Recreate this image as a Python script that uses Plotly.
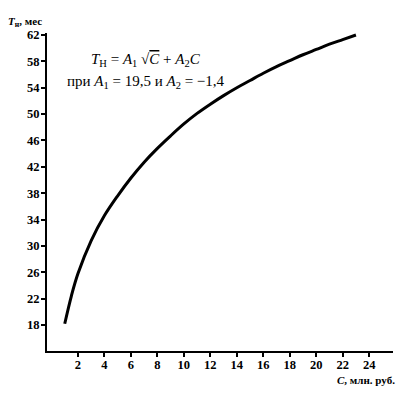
import plotly.graph_objects as go

# Values
cost = [1, 1.5, 2, 3, 4, 5, 6, 7, 8, 9, 10, 11, 12, 13, 14, 15, 16, 17, 18, 19, 20, 21, 22, 23]
term = [18.2, 22.4, 25.8, 30.8, 34.6, 37.6, 40.3, 42.7, 44.8, 46.7, 48.5, 50.1, 51.5, 52.8,
        54.0, 55.1, 56.2, 57.2, 58.1, 59.0, 59.8, 60.6, 61.3, 62.0]
x_ticks = [2, 4, 6, 8, 10, 12, 14, 16, 18, 20, 22, 24]
y_ticks = [18, 22, 26, 30, 34, 38, 42, 46, 50, 54, 58, 62]

FONT = "Liberation Serif"

fig = go.Figure()
fig.add_trace(go.Scatter(x=cost, y=term, mode="lines", line=dict(color="black", width=3, shape="spline"),
                         showlegend=False, hoverinfo="skip"))

axis_common = dict(showgrid=False, zeroline=False, showline=True, linecolor="#000000", linewidth=2,
                   ticks="outside", ticklen=4, tickwidth=1.5, tickcolor="#000000", mirror=False,
                   tickfont=dict(family=FONT, size=12.5, color="black"))

fig.update_xaxes(range=[-0.34, 25.8], tickvals=x_ticks, ticktext=[f"<b>{v}</b>" for v in x_ticks],
                 ticklabelstandoff=-3, **axis_common)
fig.update_yaxes(range=[14.06, 62.3], tickvals=y_ticks, ticktext=[f"<b>{v}</b>" for v in y_ticks],
                 ticklabelstandoff=-1, **axis_common)

fig.update_layout(
    width=399, height=398,
    margin=dict(l=47, r=6, t=33, b=47),
    paper_bgcolor="white", plot_bgcolor="white",
    font=dict(family=FONT, color="black"),
    annotations=[
        dict(xref="paper", yref="paper", x=-0.118, y=1.035, xanchor="left", yanchor="middle", showarrow=False,
             text="<b><i>T</i><sub>н</sub>, мес</b>", font=dict(family=FONT, size=11)),
        dict(xref="paper", yref="paper", x=1.012, y=-0.091, xanchor="right", yanchor="middle", showarrow=False,
             text="<b><i>C</i>, млн. руб.</b>", font=dict(family=FONT, size=11)),
        dict(xref="paper", yref="paper", x=0.285, y=0.915, xanchor="center", yanchor="middle", showarrow=False,
             text="<i>T</i><sub>Н</sub> = <i>A</i><sub>1</sub> √<span style='text-decoration:overline'><i>C</i></span> + <i>A</i><sub>2</sub><i>C</i>",
             font=dict(family=FONT, size=15)),
        dict(xref="paper", yref="paper", x=0.052, y=0.846, xanchor="left", yanchor="middle", showarrow=False,
             text="при <i>A</i><sub>1</sub> = 19,5 и <i>A</i><sub>2</sub> = −1,4",
             font=dict(family=FONT, size=15)),
    ],
)

fig.write_html("out.html", config={"displayModeBar": False},
               post_script="document.body.style.margin='0';document.body.style.overflow='hidden';")
